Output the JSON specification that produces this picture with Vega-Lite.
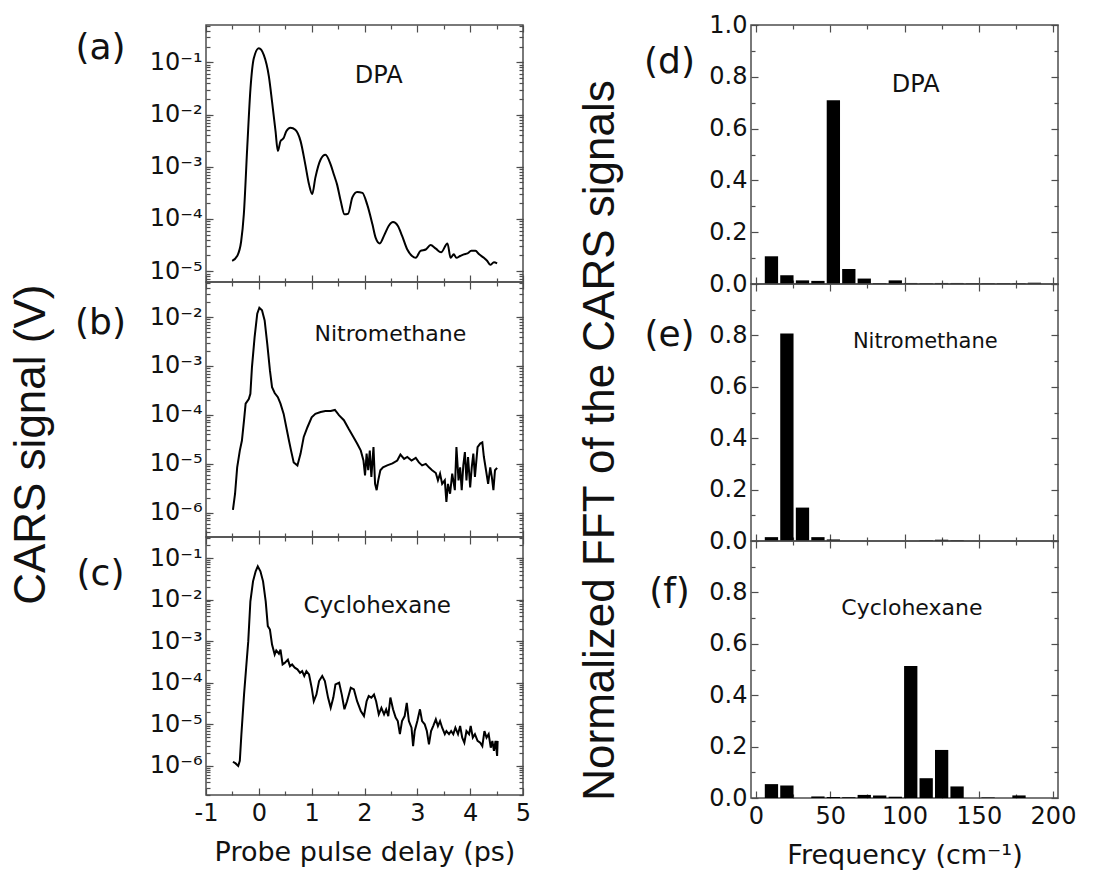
{
  "$schema": "https://vega.github.io/schema/vega-lite/v6.json",
  "padding": {"left": 9, "top": 12, "right": 5, "bottom": 5},
  "config": {
    "view": {"stroke": "#4d4d4d", "strokeWidth": 1.5},
    "font": "DejaVu Sans",
    "axis": {"domain": false, "grid": false, "labelColor": "#111", "labelFont": "DejaVu Sans", "labelFontSize": 24, "tickColor": "#4d4d4d", "tickWidth": 1.2, "tickSize": -7, "labelPadding": 11, "titleColor": "#111", "titleFont": "DejaVu Sans", "titleFontWeight": "normal", "labelOverlap": false, "labelFlush": false}
  },
  "datasets": {
    "dpa": [{"t":-0.505,"v":1.58e-5},{"t":-0.41,"v":1.95e-5},{"t":-0.335,"v":3.7e-5},{"t":-0.284,"v":1.23e-4},{"t":-0.22,"v":2.29e-3},{"t":-0.158,"v":3.16e-2},{"t":-0.095,"v":0.12},{"t":0,"v":0.186},{"t":0.095,"v":0.138},{"t":0.19,"v":0.054},{"t":0.25,"v":0.0178},{"t":0.316,"v":0.0048},{"t":0.36,"v":0.002},{"t":0.41,"v":0.0031},{"t":0.47,"v":0.00355},{"t":0.52,"v":0.0048},{"t":0.6,"v":0.0056},{"t":0.69,"v":0.0051},{"t":0.79,"v":0.0031},{"t":0.88,"v":0.0011},{"t":0.95,"v":0.00046},{"t":1.01,"v":0.0003},{"t":1.07,"v":0.00062},{"t":1.17,"v":0.00138},{"t":1.26,"v":0.0017},{"t":1.36,"v":0.0011},{"t":1.42,"v":0.00071},{"t":1.48,"v":0.00046},{"t":1.55,"v":0.00022},{"t":1.62,"v":0.000123},{"t":1.69,"v":0.000126},{"t":1.77,"v":0.00026},{"t":1.86,"v":0.00033},{"t":1.96,"v":0.000316},{"t":2.05,"v":0.00019},{"t":2.15,"v":7.9e-5},{"t":2.21,"v":4.4e-5},{"t":2.29,"v":3.4e-5},{"t":2.37,"v":4.8e-5},{"t":2.46,"v":7.4e-5},{"t":2.54,"v":8.7e-5},{"t":2.63,"v":7.4e-5},{"t":2.71,"v":4.8e-5},{"t":2.81,"v":2.6e-5},{"t":2.9,"v":1.95e-5},{"t":2.97,"v":1.8e-5},{"t":3.06,"v":2.45e-5},{"t":3.16,"v":2.6e-5},{"t":3.25,"v":3.16e-5},{"t":3.35,"v":2.7e-5},{"t":3.45,"v":2.3e-5},{"t":3.57,"v":3.4e-5},{"t":3.63,"v":1.8e-5},{"t":3.69,"v":2.1e-5},{"t":3.74,"v":1.8e-5},{"t":3.81,"v":1.95e-5},{"t":3.88,"v":2.1e-5},{"t":3.95,"v":2.2e-5},{"t":4.02,"v":2.45e-5},{"t":4.1,"v":2.45e-5},{"t":4.17,"v":2.1e-5},{"t":4.26,"v":1.8e-5},{"t":4.32,"v":1.58e-5},{"t":4.38,"v":1.32e-5},{"t":4.45,"v":1.48e-5},{"t":4.51,"v":1.41e-5}],
    "nitro": [{"t":-0.49,"v":1.15e-6},{"t":-0.45,"v":2.45e-6},{"t":-0.41,"v":8.5e-6},{"t":-0.36,"v":1.86e-5},{"t":-0.32,"v":3.0e-5},{"t":-0.28,"v":7.8e-5},{"t":-0.25,"v":1.7e-4},{"t":-0.19,"v":2.1e-4},{"t":-0.16,"v":2.7e-4},{"t":-0.13,"v":9.5e-4},{"t":-0.08,"v":3.9e-3},{"t":-0.03,"v":1.17e-2},{"t":0.01,"v":1.55e-2},{"t":0.06,"v":1.38e-2},{"t":0.11,"v":8.5e-3},{"t":0.16,"v":2.8e-3},{"t":0.21,"v":8.1e-4},{"t":0.25,"v":3.7e-4},{"t":0.30,"v":2.8e-4},{"t":0.36,"v":2.3e-4},{"t":0.41,"v":1.7e-4},{"t":0.47,"v":1.05e-4},{"t":0.52,"v":5.6e-5},{"t":0.57,"v":3.0e-5},{"t":0.61,"v":1.86e-5},{"t":0.66,"v":1.07e-5},{"t":0.73,"v":9.3e-6},{"t":0.79,"v":1.62e-5},{"t":0.85,"v":3.55e-5},{"t":0.92,"v":5.6e-5},{"t":1.0,"v":8.9e-5},{"t":1.07,"v":1.05e-4},{"t":1.17,"v":1.15e-4},{"t":1.26,"v":1.2e-4},{"t":1.36,"v":1.2e-4},{"t":1.44,"v":1.26e-4},{"t":1.52,"v":9.8e-5},{"t":1.61,"v":7.8e-5},{"t":1.70,"v":5.2e-5},{"t":1.79,"v":3.55e-5},{"t":1.86,"v":2.6e-5},{"t":1.93,"v":1.86e-5},{"t":1.98,"v":1.17e-5},{"t":2.01,"v":5.8e-6},{"t":2.04,"v":1.62e-5},{"t":2.07,"v":7.4e-6},{"t":2.10,"v":1.86e-5},{"t":2.13,"v":5.4e-6},{"t":2.17,"v":2.2e-5},{"t":2.20,"v":3.9e-6},{"t":2.23,"v":2.9e-6},{"t":2.26,"v":4.6e-6},{"t":2.30,"v":7.4e-6},{"t":2.35,"v":8.5e-6},{"t":2.43,"v":9.3e-6},{"t":2.53,"v":1.02e-5},{"t":2.62,"v":1.17e-5},{"t":2.68,"v":1.55e-5},{"t":2.75,"v":1.26e-5},{"t":2.81,"v":1.38e-5},{"t":2.89,"v":1.17e-5},{"t":2.97,"v":1.32e-5},{"t":3.03,"v":1.07e-5},{"t":3.09,"v":9.3e-6},{"t":3.16,"v":1.0e-5},{"t":3.22,"v":8.5e-6},{"t":3.28,"v":7.4e-6},{"t":3.35,"v":6.5e-6},{"t":3.39,"v":4.6e-6},{"t":3.43,"v":6.3e-6},{"t":3.47,"v":3.9e-6},{"t":3.52,"v":4.6e-6},{"t":3.55,"v":1.66e-6},{"t":3.58,"v":3.9e-6},{"t":3.62,"v":2.45e-6},{"t":3.66,"v":6.3e-6},{"t":3.71,"v":2.9e-6},{"t":3.74,"v":2.2e-5},{"t":3.78,"v":4.6e-6},{"t":3.81,"v":8.5e-6},{"t":3.84,"v":2.9e-6},{"t":3.87,"v":9.3e-6},{"t":3.90,"v":1.74e-5},{"t":3.93,"v":4.6e-6},{"t":3.96,"v":1.38e-5},{"t":4.0,"v":3.3e-6},{"t":4.03,"v":8.5e-6},{"t":4.06,"v":1.62e-5},{"t":4.09,"v":5.4e-6},{"t":4.14,"v":2.2e-5},{"t":4.19,"v":2.6e-5},{"t":4.23,"v":2.75e-5},{"t":4.26,"v":1.38e-5},{"t":4.30,"v":7.4e-6},{"t":4.34,"v":3.9e-6},{"t":4.38,"v":8.5e-6},{"t":4.41,"v":5.4e-6},{"t":4.44,"v":2.9e-6},{"t":4.47,"v":7.4e-6},{"t":4.51,"v":8.3e-6}],
    "cyclo": [{"t":-0.49,"v":1.26e-6},{"t":-0.44,"v":1.15e-6},{"t":-0.39,"v":1.0e-6},{"t":-0.36,"v":1.32e-6},{"t":-0.33,"v":5.8e-6},{"t":-0.28,"v":5.2e-5},{"t":-0.24,"v":2.3e-4},{"t":-0.20,"v":1.0e-3},{"t":-0.16,"v":9.1e-3},{"t":-0.11,"v":2.75e-2},{"t":-0.06,"v":4.8e-2},{"t":-0.02,"v":6.3e-2},{"t":0.03,"v":4.8e-2},{"t":0.08,"v":2.75e-2},{"t":0.13,"v":9.1e-3},{"t":0.17,"v":2.3e-3},{"t":0.21,"v":1.9e-3},{"t":0.25,"v":8.3e-4},{"t":0.30,"v":4.8e-4},{"t":0.33,"v":6.0e-4},{"t":0.38,"v":5.0e-4},{"t":0.41,"v":6.3e-4},{"t":0.45,"v":2.75e-4},{"t":0.49,"v":3.0e-4},{"t":0.55,"v":3.6e-4},{"t":0.59,"v":2.5e-4},{"t":0.63,"v":2.75e-4},{"t":0.68,"v":2.3e-4},{"t":0.73,"v":2.1e-4},{"t":0.78,"v":1.74e-4},{"t":0.82,"v":1.9e-4},{"t":0.86,"v":1.45e-4},{"t":0.90,"v":1.9e-4},{"t":0.95,"v":1.58e-4},{"t":1.0,"v":7.6e-5},{"t":1.04,"v":3.6e-5},{"t":1.09,"v":5.2e-5},{"t":1.14,"v":1.1e-4},{"t":1.20,"v":1.45e-4},{"t":1.25,"v":1.1e-4},{"t":1.31,"v":4.4e-5},{"t":1.36,"v":2.5e-5},{"t":1.41,"v":4.4e-5},{"t":1.45,"v":9.1e-5},{"t":1.52,"v":1.0e-4},{"t":1.57,"v":5.2e-5},{"t":1.62,"v":2.3e-5},{"t":1.67,"v":3.6e-5},{"t":1.74,"v":7.6e-5},{"t":1.80,"v":6.9e-5},{"t":1.86,"v":3.6e-5},{"t":1.93,"v":2.1e-5},{"t":1.99,"v":1.58e-5},{"t":2.04,"v":3.6e-5},{"t":2.08,"v":4.8e-5},{"t":2.13,"v":4.4e-5},{"t":2.18,"v":5.2e-5},{"t":2.22,"v":3.6e-5},{"t":2.27,"v":1.74e-5},{"t":2.32,"v":2.5e-5},{"t":2.37,"v":1.74e-5},{"t":2.41,"v":2.3e-5},{"t":2.45,"v":1.58e-5},{"t":2.49,"v":4.4e-5},{"t":2.54,"v":2.3e-5},{"t":2.59,"v":1.45e-5},{"t":2.63,"v":1.2e-5},{"t":2.67,"v":5.8e-6},{"t":2.71,"v":1.2e-5},{"t":2.76,"v":1.58e-5},{"t":2.80,"v":3.3e-5},{"t":2.84,"v":1.2e-5},{"t":2.89,"v":8.3e-6},{"t":2.92,"v":3.0e-6},{"t":2.95,"v":6.9e-6},{"t":3.00,"v":1.2e-5},{"t":3.05,"v":2.3e-5},{"t":3.09,"v":1.2e-5},{"t":3.14,"v":1.0e-5},{"t":3.18,"v":6.9e-6},{"t":3.22,"v":3.3e-6},{"t":3.26,"v":6.9e-6},{"t":3.30,"v":9.1e-6},{"t":3.35,"v":1.32e-5},{"t":3.39,"v":9.1e-6},{"t":3.43,"v":1.2e-5},{"t":3.47,"v":8.3e-6},{"t":3.52,"v":5.8e-6},{"t":3.55,"v":6.9e-6},{"t":3.60,"v":5.8e-6},{"t":3.64,"v":6.9e-6},{"t":3.68,"v":5.8e-6},{"t":3.72,"v":8.3e-6},{"t":3.77,"v":5.8e-6},{"t":3.81,"v":9.1e-6},{"t":3.85,"v":4.8e-6},{"t":3.89,"v":3.6e-6},{"t":3.93,"v":6.9e-6},{"t":3.98,"v":5.8e-6},{"t":4.01,"v":9.1e-6},{"t":4.05,"v":4.8e-6},{"t":4.09,"v":5.8e-6},{"t":4.14,"v":4.0e-6},{"t":4.19,"v":3.6e-6},{"t":4.23,"v":3.0e-6},{"t":4.27,"v":6.9e-6},{"t":4.31,"v":4.8e-6},{"t":4.35,"v":5.8e-6},{"t":4.39,"v":2.75e-6},{"t":4.42,"v":4.0e-6},{"t":4.45,"v":2.3e-6},{"t":4.48,"v":4.0e-6},{"t":4.51,"v":1.74e-6},{"t":4.52,"v":4.0e-6}],
    "fft_dpa": [{"f":10.4,"a":0.107},{"f":20.8,"a":0.034},{"f":31.3,"a":0.014},{"f":41.7,"a":0.012},{"f":52.1,"a":0.709},{"f":62.5,"a":0.058},{"f":72.9,"a":0.021},{"f":83.3,"a":0.004},{"f":93.8,"a":0.014},{"f":104.2,"a":0.004},{"f":114.6,"a":0.003},{"f":125.0,"a":0.004},{"f":135.4,"a":0.004},{"f":145.8,"a":0.003},{"f":156.3,"a":0.003},{"f":166.7,"a":0.003},{"f":177.1,"a":0.003},{"f":187.5,"a":0.005}],
    "fft_nitro": [{"f":10.4,"a":0.015},{"f":20.8,"a":0.807},{"f":31.3,"a":0.13},{"f":41.7,"a":0.015},{"f":52.1,"a":0.006},{"f":62.5,"a":0},{"f":72.9,"a":0},{"f":83.3,"a":0},{"f":93.8,"a":0},{"f":104.2,"a":0},{"f":114.6,"a":0.003},{"f":125.0,"a":0.005},{"f":135.4,"a":0.003},{"f":145.8,"a":0},{"f":156.3,"a":0},{"f":166.7,"a":0},{"f":177.1,"a":0},{"f":187.5,"a":0}],
    "fft_cyclo": [{"f":10.4,"a":0.054},{"f":20.8,"a":0.049},{"f":31.3,"a":0},{"f":41.7,"a":0.006},{"f":52.1,"a":0.004},{"f":62.5,"a":0.003},{"f":72.9,"a":0.012},{"f":83.3,"a":0.01},{"f":93.8,"a":0.005},{"f":104.2,"a":0.514},{"f":114.6,"a":0.077},{"f":125.0,"a":0.187},{"f":135.4,"a":0.045},{"f":145.8,"a":0},{"f":156.3,"a":0.002},{"f":166.7,"a":0},{"f":177.1,"a":0.01},{"f":187.5,"a":0}]
  },
  "hconcat": [
    {
      "title": {"text": "CARS signal (V)", "orient": "left", "anchor": "middle", "fontSize": 44, "font": "Liberation Sans", "fontWeight": "normal", "color": "#111", "offset": 20},
      "bounds": "flush",
      "spacing": 0,
      "vconcat": [
        {
          "width": 317, "height": 257,
          "layer": [
            {"data": {"name": "dpa"}, "mark": {"type": "line", "color": "black", "strokeWidth": 2, "interpolate": "monotone"},
             "encoding": {
               "x": {"field": "t", "type": "quantitative", "scale": {"domain": [-1, 5], "nice": false},
                     "axis": {"orient": "bottom", "values": [-1,0,1,2,3,4,5], "labels": false, "title": null}},
               "y": {"field": "v", "type": "quantitative", "scale": {"type": "log", "domain": [6.2e-6, 0.52], "nice": false},
                     "axis": {"orient": "left", "values": [1e-5,1e-4,1e-3,1e-2,1e-1], "labelExpr": "'10' + ['⁰','⁻¹','⁻²','⁻³','⁻⁴','⁻⁵','⁻⁶','⁻⁷'][-round(log(datum.value)/LN10)]", "title": "(a)", "titleAngle": 0, "titleFontSize": 36, "titleAlign": "center", "titleBaseline": "middle", "titleX": -106, "titleY": 22}}
             }},
            {"data": {"values": [{"name": "DPA"}]}, "mark": {"type": "text", "fontSize": 24, "color": "#111"},
             "encoding": {
               "x": {"datum": 2.27, "type": "quantitative", "axis": {"orient": "top", "values": [-1,0,1,2,3,4,5], "labels": false, "title": null}},
               "y": {"datum": 0.054, "type": "quantitative", "axis": {"orient": "right", "values": [1e-5,1e-4,1e-3,1e-2,1e-1], "labels": false, "title": null}},
               "text": {"field": "name"}
             }},
            {"data": {"name": "dpa"}, "mark": {"type": "line", "opacity": 0},
             "encoding": {
               "x": {"field": "t", "type": "quantitative", "axis": {"orient": "bottom", "values": [-0.5,0.5,1.5,2.5,3.5,4.5], "labels": false, "title": null, "tickSize": -4}},
               "y": {"field": "v", "type": "quantitative", "axis": {"orient": "left", "tickCount": 60, "labels": false, "title": null, "tickSize": -4}}
             }},
            {"data": {"values": [{"name": ""}]}, "mark": {"type": "text"},
             "encoding": {
               "x": {"datum": 2.27, "type": "quantitative", "axis": {"orient": "top", "values": [-0.5,0.5,1.5,2.5,3.5,4.5], "labels": false, "title": null, "tickSize": -4}},
               "y": {"datum": 0.054, "type": "quantitative", "axis": {"orient": "right", "tickCount": 60, "labels": false, "title": null, "tickSize": -4}},
               "text": {"field": "name"}
             }}
          ],
          "resolve": {"axis": {"x": "independent", "y": "independent"}}
        },
        {
          "width": 317, "height": 255,
          "layer": [
            {"data": {"name": "nitro"}, "mark": {"type": "line", "color": "black", "strokeWidth": 2},
             "encoding": {
               "x": {"field": "t", "type": "quantitative", "scale": {"domain": [-1, 5], "nice": false},
                     "axis": {"orient": "bottom", "values": [-1,0,1,2,3,4,5], "labels": false, "title": null}},
               "y": {"field": "v", "type": "quantitative", "scale": {"type": "log", "domain": [3.2e-7, 0.052], "nice": false},
                     "axis": {"orient": "left", "values": [1e-6,1e-5,1e-4,1e-3,1e-2], "labelExpr": "'10' + ['⁰','⁻¹','⁻²','⁻³','⁻⁴','⁻⁵','⁻⁶','⁻⁷'][-round(log(datum.value)/LN10)]", "title": "(b)", "titleAngle": 0, "titleFontSize": 36, "titleAlign": "center", "titleBaseline": "middle", "titleX": -106, "titleY": 40}}
             }},
            {"data": {"values": [{"name": "Nitromethane"}]}, "mark": {"type": "text", "fontSize": 22, "color": "#111"},
             "encoding": {
               "x": {"datum": 2.49, "type": "quantitative", "axis": {"orient": "top", "values": [-1,0,1,2,3,4,5], "labels": false, "title": null}},
               "y": {"datum": 0.0046, "type": "quantitative", "axis": {"orient": "right", "values": [1e-6,1e-5,1e-4,1e-3,1e-2], "labels": false, "title": null}},
               "text": {"field": "name"}
             }},
            {"data": {"name": "nitro"}, "mark": {"type": "line", "opacity": 0},
             "encoding": {
               "x": {"field": "t", "type": "quantitative", "axis": {"orient": "bottom", "values": [-0.5,0.5,1.5,2.5,3.5,4.5], "labels": false, "title": null, "tickSize": -4}},
               "y": {"field": "v", "type": "quantitative", "axis": {"orient": "left", "tickCount": 60, "labels": false, "title": null, "tickSize": -4}}
             }},
            {"data": {"values": [{"name": ""}]}, "mark": {"type": "text"},
             "encoding": {
               "x": {"datum": 2.49, "type": "quantitative", "axis": {"orient": "top", "values": [-0.5,0.5,1.5,2.5,3.5,4.5], "labels": false, "title": null, "tickSize": -4}},
               "y": {"datum": 0.0046, "type": "quantitative", "axis": {"orient": "right", "tickCount": 60, "labels": false, "title": null, "tickSize": -4}},
               "text": {"field": "name"}
             }}
          ],
          "resolve": {"axis": {"x": "independent", "y": "independent"}}
        },
        {
          "width": 317, "height": 258,
          "layer": [
            {"data": {"name": "cyclo"}, "mark": {"type": "line", "color": "black", "strokeWidth": 2},
             "encoding": {
               "x": {"field": "t", "type": "quantitative", "scale": {"domain": [-1, 5], "nice": false},
                     "axis": {"orient": "bottom", "values": [-1,0,1,2,3,4,5], "labelExpr": "toString(datum.value)", "labelPadding": 13, "title": "Probe pulse delay (ps)", "titleFontSize": 27, "titlePadding": 14}},
               "y": {"field": "v", "type": "quantitative", "scale": {"type": "log", "domain": [2.0e-7, 0.32], "nice": false},
                     "axis": {"orient": "left", "values": [1e-6,1e-5,1e-4,1e-3,1e-2,1e-1], "labelExpr": "'10' + ['⁰','⁻¹','⁻²','⁻³','⁻⁴','⁻⁵','⁻⁶','⁻⁷'][-round(log(datum.value)/LN10)]", "title": "(c)", "titleAngle": 0, "titleFontSize": 36, "titleAlign": "center", "titleBaseline": "middle", "titleX": -106, "titleY": 36}}
             }},
            {"data": {"values": [{"name": "Cyclohexane"}]}, "mark": {"type": "text", "fontSize": 23, "color": "#111"},
             "encoding": {
               "x": {"datum": 2.24, "type": "quantitative", "axis": {"orient": "top", "values": [-1,0,1,2,3,4,5], "labels": false, "title": null}},
               "y": {"datum": 0.0072, "type": "quantitative", "axis": {"orient": "right", "values": [1e-6,1e-5,1e-4,1e-3,1e-2,1e-1], "labels": false, "title": null}},
               "text": {"field": "name"}
             }},
            {"data": {"name": "cyclo"}, "mark": {"type": "line", "opacity": 0},
             "encoding": {
               "x": {"field": "t", "type": "quantitative", "axis": {"orient": "bottom", "values": [-0.5,0.5,1.5,2.5,3.5,4.5], "labels": false, "title": null, "tickSize": -4}},
               "y": {"field": "v", "type": "quantitative", "axis": {"orient": "left", "tickCount": 60, "labels": false, "title": null, "tickSize": -4}}
             }},
            {"data": {"values": [{"name": ""}]}, "mark": {"type": "text"},
             "encoding": {
               "x": {"datum": 2.24, "type": "quantitative", "axis": {"orient": "top", "values": [-0.5,0.5,1.5,2.5,3.5,4.5], "labels": false, "title": null, "tickSize": -4}},
               "y": {"datum": 0.0072, "type": "quantitative", "axis": {"orient": "right", "tickCount": 60, "labels": false, "title": null, "tickSize": -4}},
               "text": {"field": "name"}
             }}
          ],
          "resolve": {"axis": {"x": "independent", "y": "independent"}}
        }
      ]
    },
    {
      "title": {"text": "Normalized FFT of the CARS signals", "orient": "left", "anchor": "middle", "fontSize": 44, "font": "Liberation Sans", "fontWeight": "normal", "color": "#111", "offset": 20},
      "bounds": "flush",
      "spacing": 0,
      "vconcat": [
        {
          "width": 307, "height": 259,
          "layer": [
            {"data": {"name": "fft_dpa"}, "mark": {"type": "bar", "orient": "vertical", "color": "black", "size": 13.3},
             "encoding": {
               "x": {"field": "f", "type": "quantitative", "scale": {"domain": [0, 200], "nice": false},
                     "axis": {"orient": "bottom", "values": [0,50,100,150,200], "labels": false, "title": null}},
               "y": {"field": "a", "type": "quantitative", "scale": {"domain": [0, 1], "nice": false},
                     "axis": {"orient": "left", "values": [0,0.2,0.4,0.6,0.8,1.0], "format": ".1f", "title": "(d)", "titleAngle": 0, "titleFontSize": 36, "titleAlign": "center", "titleBaseline": "middle", "titleX": -82, "titleY": 36}}
             }},
            {"data": {"values": [{"name": "DPA"}]}, "mark": {"type": "text", "fontSize": 24, "color": "#111"},
             "encoding": {
               "x": {"datum": 107.5, "type": "quantitative", "axis": {"orient": "top", "values": [0,50,100,150,200], "labels": false, "title": null}},
               "y": {"datum": 0.77, "type": "quantitative", "axis": {"orient": "right", "values": [0,0.2,0.4,0.6,0.8,1.0], "labels": false, "title": null}},
               "text": {"field": "name"}
             }},
            {"data": {"name": "fft_dpa"}, "mark": {"type": "bar", "orient": "vertical", "opacity": 0, "size": 13.3},
             "encoding": {
               "x": {"field": "f", "type": "quantitative", "axis": {"orient": "bottom", "values": [25,75,125,175], "labels": false, "title": null, "tickSize": -4}},
               "y": {"field": "a", "type": "quantitative", "axis": {"orient": "left", "values": [0.1,0.3,0.5,0.7,0.9], "labels": false, "title": null, "tickSize": -4}}
             }},
            {"data": {"values": [{"name": ""}]}, "mark": {"type": "text"},
             "encoding": {
               "x": {"datum": 107.5, "type": "quantitative", "axis": {"orient": "top", "values": [25,75,125,175], "labels": false, "title": null, "tickSize": -4}},
               "y": {"datum": 0.77, "type": "quantitative", "axis": {"orient": "right", "values": [0.1,0.3,0.5,0.7,0.9], "labels": false, "title": null, "tickSize": -4}},
               "text": {"field": "name"}
             }}
          ],
          "resolve": {"axis": {"x": "independent", "y": "independent"}}
        },
        {
          "width": 307, "height": 257,
          "layer": [
            {"data": {"name": "fft_nitro"}, "mark": {"type": "bar", "orient": "vertical", "color": "black", "size": 13.3},
             "encoding": {
               "x": {"field": "f", "type": "quantitative", "scale": {"domain": [0, 200], "nice": false},
                     "axis": {"orient": "bottom", "values": [0,50,100,150,200], "labels": false, "title": null}},
               "y": {"field": "a", "type": "quantitative", "scale": {"domain": [0, 1], "nice": false},
                     "axis": {"orient": "left", "values": [0,0.2,0.4,0.6,0.8], "format": ".1f", "title": "(e)", "titleAngle": 0, "titleFontSize": 36, "titleAlign": "center", "titleBaseline": "middle", "titleX": -82, "titleY": 50}}
             }},
            {"data": {"values": [{"name": "Nitromethane"}]}, "mark": {"type": "text", "fontSize": 21, "color": "#111"},
             "encoding": {
               "x": {"datum": 114, "type": "quantitative", "axis": {"orient": "top", "values": [0,50,100,150,200], "labels": false, "title": null}},
               "y": {"datum": 0.774, "type": "quantitative", "axis": {"orient": "right", "values": [0,0.2,0.4,0.6,0.8,1.0], "labels": false, "title": null}},
               "text": {"field": "name"}
             }},
            {"data": {"name": "fft_nitro"}, "mark": {"type": "bar", "orient": "vertical", "opacity": 0, "size": 13.3},
             "encoding": {
               "x": {"field": "f", "type": "quantitative", "axis": {"orient": "bottom", "values": [25,75,125,175], "labels": false, "title": null, "tickSize": -4}},
               "y": {"field": "a", "type": "quantitative", "axis": {"orient": "left", "values": [0.1,0.3,0.5,0.7,0.9], "labels": false, "title": null, "tickSize": -4}}
             }},
            {"data": {"values": [{"name": ""}]}, "mark": {"type": "text"},
             "encoding": {
               "x": {"datum": 114, "type": "quantitative", "axis": {"orient": "top", "values": [25,75,125,175], "labels": false, "title": null, "tickSize": -4}},
               "y": {"datum": 0.774, "type": "quantitative", "axis": {"orient": "right", "values": [0.1,0.3,0.5,0.7,0.9], "labels": false, "title": null, "tickSize": -4}},
               "text": {"field": "name"}
             }}
          ],
          "resolve": {"axis": {"x": "independent", "y": "independent"}}
        },
        {
          "width": 307, "height": 257,
          "layer": [
            {"data": {"name": "fft_cyclo"}, "mark": {"type": "bar", "orient": "vertical", "color": "black", "size": 13.3},
             "encoding": {
               "x": {"field": "f", "type": "quantitative", "scale": {"domain": [0, 200], "nice": false},
                     "axis": {"orient": "bottom", "values": [0,50,100,150,200], "labelExpr": "toString(datum.value)", "labelPadding": 13, "title": "Frequency (cm⁻¹)", "titleFontSize": 27, "titlePadding": 14}},
               "y": {"field": "a", "type": "quantitative", "scale": {"domain": [0, 1], "nice": false},
                     "axis": {"orient": "left", "values": [0,0.2,0.4,0.6,0.8], "format": ".1f", "title": "(f)", "titleAngle": 0, "titleFontSize": 36, "titleAlign": "center", "titleBaseline": "middle", "titleX": -82, "titleY": 50}}
             }},
            {"data": {"values": [{"name": "Cyclohexane"}]}, "mark": {"type": "text", "fontSize": 22, "color": "#111"},
             "encoding": {
               "x": {"datum": 105, "type": "quantitative", "axis": {"orient": "top", "values": [0,50,100,150,200], "labels": false, "title": null}},
               "y": {"datum": 0.738, "type": "quantitative", "axis": {"orient": "right", "values": [0,0.2,0.4,0.6,0.8,1.0], "labels": false, "title": null}},
               "text": {"field": "name"}
             }},
            {"data": {"name": "fft_cyclo"}, "mark": {"type": "bar", "orient": "vertical", "opacity": 0, "size": 13.3},
             "encoding": {
               "x": {"field": "f", "type": "quantitative", "axis": {"orient": "bottom", "values": [25,75,125,175], "labels": false, "title": null, "tickSize": -4}},
               "y": {"field": "a", "type": "quantitative", "axis": {"orient": "left", "values": [0.1,0.3,0.5,0.7,0.9], "labels": false, "title": null, "tickSize": -4}}
             }},
            {"data": {"values": [{"name": ""}]}, "mark": {"type": "text"},
             "encoding": {
               "x": {"datum": 105, "type": "quantitative", "axis": {"orient": "top", "values": [25,75,125,175], "labels": false, "title": null, "tickSize": -4}},
               "y": {"datum": 0.738, "type": "quantitative", "axis": {"orient": "right", "values": [0.1,0.3,0.5,0.7,0.9], "labels": false, "title": null, "tickSize": -4}},
               "text": {"field": "name"}
             }}
          ],
          "resolve": {"axis": {"x": "independent", "y": "independent"}}
        }
      ]
    }
  ],
  "spacing": 46
}
